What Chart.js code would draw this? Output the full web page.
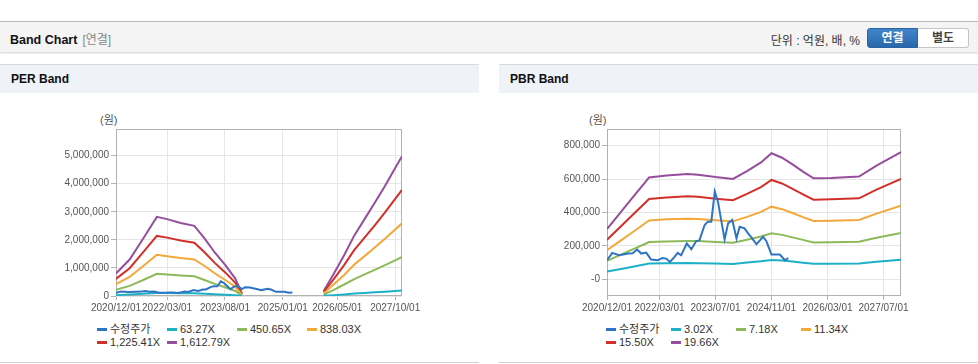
<!DOCTYPE html>
<html lang="ko">
<head>
<meta charset="utf-8">
<title>Band Chart</title>
<script src="https://cdn.jsdelivr.net/npm/chart.js@4.4.1/dist/chart.umd.min.js"></script>
<style>
    body {
        margin: 0;
        width: 978px;
        height: 364px;
        position: relative;
        overflow: hidden;
        background: #fff;
        font-family: "Liberation Sans", "Noto Sans CJK KR", sans-serif;
    }
    .topbar {
        position: absolute;
        left: 0;
        top: 21px;
        width: 978px;
        height: 30px;
        background: #f4f4f4;
        border-top: 1px solid #bdbdbd;
        box-shadow: 0 1px 2px rgba(0, 0, 0, 0.2);
    }
    .topbar .title {
        position: absolute;
        left: 10px;
        top: 8px;
        font-size: 12.5px;
        font-weight: bold;
        color: #111;
    }
    .topbar .title span {
        font-weight: normal;
        color: #888;
        margin-left: 5px;
        font-size: 12px;
    }
    .unit {
        position: absolute;
        right: 118px;
        top: 9px;
        font-size: 12px;
        color: #333;
    }
    .btn {
        position: absolute;
        top: 6px;
        width: 51px;
        height: 20px;
        box-sizing: border-box;
        font-size: 12px;
        font-weight: bold;
        text-align: center;
        line-height: 18px;
    }
    .btn.on {
        left: 867px;
        background: linear-gradient(#4185cc, #2a67ab);
        border: 1px solid #2962a3;
        color: #fff;
        border-radius: 3px 0 0 3px;
    }
    .btn.off {
        left: 918px;
        background: #fff;
        border: 1px solid #c5c5c5;
        border-left: none;
        color: #444;
        border-radius: 0 3px 3px 0;
    }
    .panel {
        position: absolute;
        top: 64px;
        width: 479px;
        height: 297px;
        border-top: 1px solid #dadada;
        border-bottom: 1px solid #d0d0d0;
    }
    .panel-head {
        height: 28px;
        line-height: 29px;
        padding-left: 11px;
        background: #eff2f7;
        font-size: 12px;
        font-weight: bold;
        color: #111;
    }
    .panel canvas {
        position: absolute;
        left: 0;
        top: 30px;
    }
    .won {
        position: absolute;
        top: 46px;
        font-size: 11px;
        color: #555;
    }
    .legend {
        position: absolute;
        top: 258px;
        display: grid;
        font-size: 11px;
        color: #333;
        line-height: 13.4px;
    }
    .legend div {
        white-space: nowrap;
    }
    .legend i {
        display: inline-block;
        width: 10px;
        height: 3px;
        margin-right: 3px;
        vertical-align: middle;
        position: relative;
        top: -1px;
    }
</style>
</head>
<body>

<div class="topbar">
    <div class="title">Band Chart<span>[연결]</span></div>
    <div class="unit">단위 : 억원, 배, %</div>
    <div class="btn on">연결</div>
    <div class="btn off">별도</div>
</div>

<div class="panel" style="left:0">
    <div class="panel-head">PER Band</div>
    <div class="won" style="left:100px">(원)</div>
    <canvas id="per-chart" width="479" height="225"></canvas>
    <div class="legend" id="per-legend" style="left:97px; grid-template-columns: repeat(4, 70px)"></div>
</div>

<div class="panel" style="left:499px">
    <div class="panel-head">PBR Band</div>
    <div class="won" style="left:90px">(원)</div>
    <canvas id="pbr-chart" width="479" height="225"></canvas>
    <div class="legend" id="pbr-legend" style="left:107px; grid-template-columns: repeat(4, 65px)"></div>
</div>

<script>
// x values are months counted from 2020/12
const perTickLabels = ['2020/12/01', '2022/03/01', '2023/08/01', '2025/01/01', '2026/05/01', '2027/10/01'];
const pbrTickLabels = ['2020/12/01', '2022/03/01', '2023/07/01', '2024/11/01', '2026/03/01', '2027/07/01'];

// adjusted share price (same in both charts)
const priceMonths = [0, 1.5, 3.5, 6, 7.3, 8.6, 9.8, 11.2, 12.6, 14.5, 15.9, 16.9, 18, 19.3, 20.2, 21.2,
    22.8, 24.1, 25.5, 26.4, 27.9, 28.8, 29.8, 30.8, 31.7, 32.7, 33.6, 34.6, 35.8, 37, 37.9, 39.3,
    40.3, 41.3, 42.7, 44.6, 45.5, 47, 49.4, 50.8, 51.8];
const priceValues = [114000, 158000, 144000, 154000, 156000, 178000, 154000, 160000, 118000, 114000,
    128000, 124000, 104000, 134000, 158000, 144000, 215000, 180000, 229000, 233000, 325000, 345000,
    345000, 525000, 465000, 345000, 239000, 335000, 355000, 245000, 315000, 305000, 275000, 250000,
    210000, 254000, 230000, 148000, 148000, 114000, 127000];

// PER bands (no band values between 2024/01 and 2025/12)
const perLabels = ['수정주가', '63.27X', '450.65X', '838.03X', '1,225.41X', '1,612.79X'];
const perMonths = [0, 4, 8, 12, 15, 19, 23, 26, 29, 32, 35, 37, 61, 64, 67, 70, 73, 76, 79, 82, 84];
const per63 = [31000, 51000, 80000, 111000, 107000, 102000, 98000, 80000, 61000, 44000, 25000, 3000,
    7000, 31000, 57000, 85000, 107000, 130000, 154000, 179000, 195000];
const per450 = [220000, 360000, 570000, 790000, 770000, 730000, 700000, 570000, 430000, 310000, 180000, 20000,
    50000, 220000, 410000, 600000, 770000, 930000, 1100000, 1270000, 1390000];
const per838 = [420000, 680000, 1070000, 1470000, 1420000, 1350000, 1300000, 1070000, 810000, 580000, 330000, 40000,
    90000, 420000, 750000, 1120000, 1420000, 1730000, 2040000, 2370000, 2590000];
const per1225 = [610000, 990000, 1560000, 2140000, 2080000, 1980000, 1900000, 1560000, 1180000, 850000, 480000, 60000,
    140000, 610000, 1100000, 1640000, 2080000, 2520000, 2980000, 3460000, 3780000];
const per1612 = [800000, 1300000, 2050000, 2820000, 2740000, 2600000, 2500000, 2050000, 1550000, 1120000, 630000, 80000,
    180000, 800000, 1450000, 2160000, 2740000, 3320000, 3920000, 4560000, 4980000];

// PBR bands
const pbrLabels = ['수정주가', '3.02X', '7.18X', '11.34X', '15.50X', '19.66X'];
const pbrMonths = [0, 4, 7, 11, 12, 17, 23, 26, 31, 36, 40, 44, 47, 50, 53, 56, 59, 64, 72, 77, 84];
const pbr302 = [46000, 62000, 74000, 90000, 94000, 96000, 97000, 96000, 94000, 92000, 100000,
    108000, 116000, 112000, 106000, 99000, 93000, 93000, 94000, 105000, 117000];
const pbr718 = [110000, 148000, 176000, 213000, 223000, 227000, 230000, 229000, 224000, 219000, 237000,
    256000, 276000, 266000, 251000, 236000, 221000, 222000, 225000, 249000, 278000];
const pbr1134 = [174000, 233000, 277000, 337000, 352000, 359000, 363000, 361000, 353000, 347000, 374000,
    404000, 435000, 420000, 397000, 372000, 349000, 350000, 355000, 393000, 440000];
const pbr1550 = [237000, 318000, 379000, 460000, 481000, 490000, 497000, 494000, 483000, 474000, 511000,
    552000, 595000, 574000, 542000, 509000, 477000, 479000, 485000, 537000, 601000];
const pbr1966 = [301000, 404000, 481000, 584000, 610000, 622000, 630000, 626000, 612000, 601000, 648000,
    700000, 755000, 728000, 688000, 645000, 605000, 607000, 615000, 681000, 762000];

const lineColors = ['#2f74c4', '#1cb1c6', '#8dba58', '#f2a83a', '#d22f29', '#954e9c'];

Chart.defaults.font.family = '"Liberation Sans", "Noto Sans CJK KR", sans-serif';

// "2022/03/01" -> months since 2020/12
function monthIndex(label) {
    const [y, m] = label.split('/').map(Number);
    return (y - 2020) * 12 + (m - 12);
}

function toPoints(months, values) {
    return months.map((m, i) => ({ x: m, y: values[i] }));
}

// Box around the plot area
const plotFrame = {
    id: 'plotFrame',
    beforeDatasetsDraw(chart) {
        const a = chart.chartArea;
        const ctx = chart.ctx;
        ctx.save();
        ctx.strokeStyle = '#b2b2b2';
        ctx.lineWidth = 1;
        ctx.strokeRect(Math.round(a.left) + 0.5, Math.round(a.top) + 0.5,
            Math.round(a.right - a.left) - 1, Math.round(a.bottom - a.top) - 1);
        ctx.restore();
    }
};

function makeBandChart(canvasId, legendId, cfg) {
    const datasets = [
        { label: cfg.labels[0], data: toPoints(priceMonths, priceValues), spanGaps: true }
    ];
    cfg.bands.forEach((band, i) => {
        datasets.push({ label: cfg.labels[i + 1], data: toPoints(cfg.months, band), spanGaps: cfg.bandGap });
    });
    datasets.forEach((ds, i) => {
        ds.borderColor = lineColors[i];
        ds.backgroundColor = lineColors[i];
        ds.borderWidth = 2;
        ds.pointRadius = 0;
        ds.tension = 0;
    });

    const ctx = document.getElementById(canvasId).getContext('2d');
    const chart = new Chart(ctx, {
        type: 'line',
        data: { datasets: datasets },
        options: {
            responsive: false,
            animation: false,
            layout: { padding: { top: 34, right: 77, left: 0, bottom: 0 } },
            plugins: {
                legend: { display: false },
                tooltip: { enabled: false }
            },
            scales: {
                x: {
                    type: 'linear',
                    min: 0,
                    max: 84,
                    afterBuildTicks: function(axis) {
                        axis.ticks = cfg.tickLabels.map(l => ({ value: monthIndex(l) }));
                    },
                    afterFit: function(axis) {
                        axis.height = 24;
                    },
                    ticks: {
                        color: '#555',
                        font: { size: 10 },
                        padding: 2,
                        maxRotation: 0,
                        autoSkip: false,
                        callback: function(value, index) {
                            return cfg.tickLabels[index];
                        }
                    },
                    grid: { color: '#e6e6e6', tickColor: '#b2b2b2', tickLength: 4 },
                    border: { display: false }
                },
                y: {
                    min: cfg.yMin,
                    max: cfg.yMax,
                    afterBuildTicks: function(axis) {
                        const ticks = [];
                        for (let v = Math.ceil(cfg.yMin / cfg.yStep) * cfg.yStep; v <= cfg.yMax; v += cfg.yStep) {
                            ticks.push({ value: v });
                        }
                        axis.ticks = ticks;
                    },
                    afterFit: function(axis) {
                        axis.width = cfg.yWidth;
                    },
                    ticks: {
                        color: '#555',
                        font: { size: 10 },
                        padding: 2,
                        callback: function(value) {
                            return value.toLocaleString('en-US');
                        }
                    },
                    grid: { color: '#e6e6e6', tickColor: '#b2b2b2', tickLength: 5 },
                    border: { display: false }
                }
            }
        },
        plugins: [plotFrame]
    });

    // HTML legend from the chart's datasets
    const legend = document.getElementById(legendId);
    chart.data.datasets.forEach(ds => {
        const item = document.createElement('div');
        item.innerHTML = `<i style="background:${ds.borderColor}"></i>${ds.label}`;
        legend.appendChild(item);
    });
    return chart;
}

makeBandChart('per-chart', 'per-legend', {
    labels: perLabels,
    months: perMonths,
    bands: [per63, per450, per838, per1225, per1612],
    bandGap: 12,
    tickLabels: perTickLabels,
    yMin: 0,
    yMax: 5950000,
    yStep: 1000000,
    yWidth: 116
});

makeBandChart('pbr-chart', 'pbr-legend', {
    labels: pbrLabels,
    months: pbrMonths,
    bands: [pbr302, pbr718, pbr1134, pbr1550, pbr1966],
    bandGap: true,
    tickLabels: pbrTickLabels,
    yMin: -100000,
    yMax: 900000,
    yStep: 200000,
    yWidth: 108
});
</script>
</body>
</html>
